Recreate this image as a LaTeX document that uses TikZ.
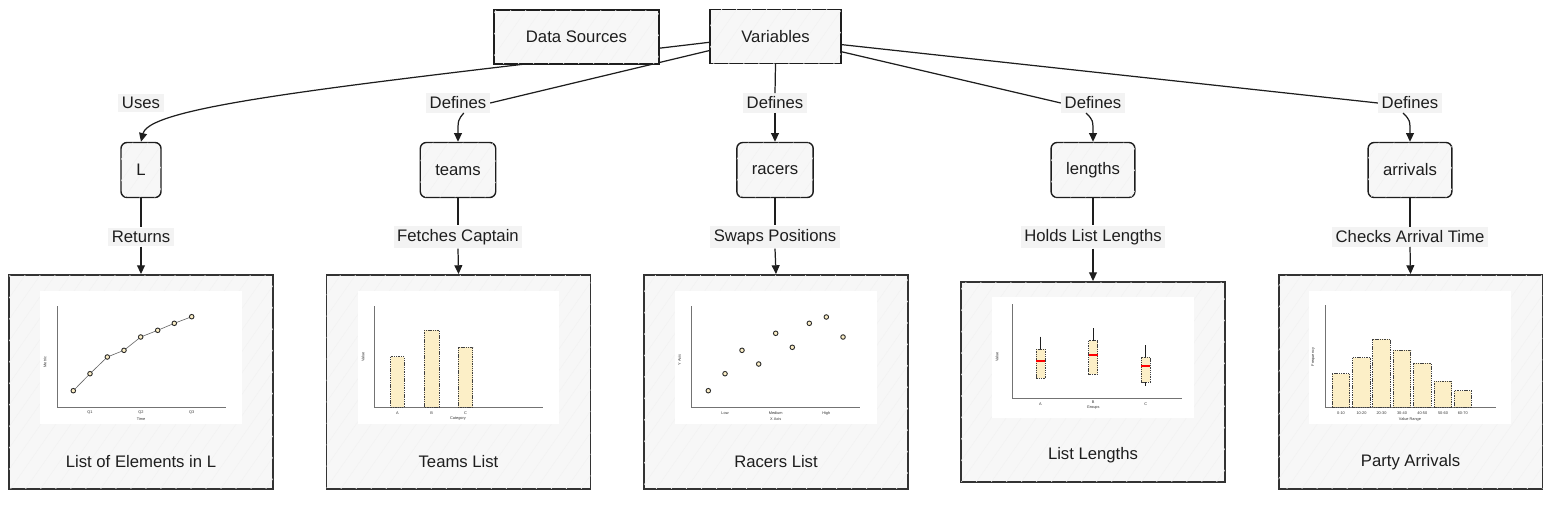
\documentclass[tikz,border=0pt]{standalone}
\usepackage{fontspec}
\setmainfont{Liberation Sans}
\usetikzlibrary{arrows.meta,patterns.meta}

\definecolor{ink}{HTML}{1E1E1E}
\definecolor{barfill}{HTML}{FCEFC7}
\definecolor{lblfill}{HTML}{F3F3F3}

\tikzset{
    hatch/.style={postaction={pattern={Lines[angle=55,distance=7pt,line width=0.3pt]}, pattern color=black!5}},
    topbox/.style={rectangle, draw=ink, line width=0.8pt, fill=black!3, minimum height=1.08cm, text=ink, font=\fontsize{9.5}{11}\selectfont, hatch},
    varbox/.style={rectangle, rounded corners=0.12cm, draw=ink, line width=0.8pt, fill=black!3, minimum height=1.1cm, minimum width=0.8cm, inner xsep=0.3cm, text=ink, font=\fontsize{9.5}{11}\selectfont, hatch},
    panel/.style={rectangle, draw=black!80, line width=1.1pt, fill=black!3, minimum width=5.28cm, minimum height=4.28cm, hatch},
    edgelabel/.style={fill=lblfill, inner sep=2pt, text=ink, font=\fontsize{9.5}{11}\selectfont},
    caption/.style={text=ink, font=\fontsize{9.5}{11}\selectfont},
    link/.style={draw=ink, line width=0.7pt},
    linkarrow/.style={link, -{Triangle[length=5pt,width=4.5pt]}},
    axis/.style={draw=black!55, line width=0.5pt},
    tiny/.style={font=\fontsize{2.2}{2.6}\selectfont, inner sep=0pt, text=black!80},
    bar/.style={fill=barfill, draw=black!75, dash pattern=on 0.8pt off 0.5pt, line width=0.4pt},
    dot/.style={fill=barfill, draw=black!85, line width=0.5pt},
    whisker/.style={draw=ink, line width=0.45pt},
    median/.style={draw=red, line width=0.6pt}
}

\begin{document}
\begin{tikzpicture}[x=0.02cm, y=-0.02cm]
    \useasboundingbox (0,0) rectangle (1568,504);

    \node[topbox, minimum width=2.62cm] (vars) at (775.5,36.5) {Variables};

    \node[varbox] (L) at (141,170) {L};
    \node[varbox] (teams) at (458,170) {teams};
    \node[varbox] (racers) at (775,170) {racers};
    \node[varbox] (lengths) at (1093,170) {lengths};
    \node[varbox] (arrivals) at (1410,170) {arrivals};

    \node[edgelabel] (usesL) at (141,103) {Uses};
    \node[edgelabel] (defteams) at (458,103) {Defines};
    \node[edgelabel] (defracers) at (775,103) {Defines};
    \node[edgelabel] (deflengths) at (1093,103) {Defines};
    \node[edgelabel] (defarrivals) at (1410,103) {Defines};

    \node[edgelabel] (retL) at (141,237) {Returns};
    \node[edgelabel] (fetch) at (458,237) {Fetches Captain};
    \node[edgelabel] (swap) at (775,237) {Swaps Positions};
    \node[edgelabel] (hold) at (1093,237) {Holds List Lengths};
    \node[edgelabel] (check) at (1410,237) {Checks Arrival Time};

    \node[panel] (lpanel) at (141,382) {};
    \node[panel] (tpanel) at (458.5,382) {};
    \node[panel] (rpanel) at (776,382) {};
    \node[panel, minimum height=4cm] (lenpanel) at (1093,382) {};
    \node[panel] (apanel) at (1410.5,382) {};

    \node[caption] (lcap) at (141,462) {List of Elements in L};
    \node[caption] (tcap) at (458.5,462) {Teams List};
    \node[caption] (rcap) at (776,462) {Racers List};
    \node[caption] (lencap) at (1093,455) {List Lengths};
    \node[caption] (acap) at (1410.5,462) {Party Arrivals};

    % top links
    \draw[linkarrow] (vars.185.7) .. controls (350,85) and (150,105) .. (L.north);
    \draw[link] (vars.192.5) -- (defteams.east);
    \draw[linkarrow] (defteams.-60) .. controls (458,120) .. (teams.north);
    \draw[link] (vars.south) -- (defracers.north);
    \draw[linkarrow] (defracers.south) -- (racers.north);
    \draw[link] (vars.347.5) -- (deflengths.west);
    \draw[linkarrow] (deflengths.235) .. controls (1093,120) .. (lengths.north);
    \draw[link] (vars.353.5) -- (defarrivals.west);
    \draw[linkarrow] (defarrivals.235) .. controls (1410,120) .. (arrivals.north);

    % bottom links
    \draw[link] (L.south) -- (retL.north);
    \draw[linkarrow] (retL.south) -- (lpanel.north);
    \draw[link] (teams.south) -- (fetch.north);
    \draw[linkarrow] (fetch.south) -- (tpanel.north);
    \draw[link] (racers.south) -- (swap.north);
    \draw[linkarrow] (swap.south) -- (rpanel.north);
    \draw[link] (lengths.south) -- (hold.north);
    \draw[linkarrow] (hold.south) -- (lenpanel.north);
    \draw[link] (arrivals.south) -- (check.north);
    \draw[linkarrow] (check.south) -- (apanel.north);

    \node[topbox, minimum width=3.3cm] (datasrc) at (576.5,37) {Data Sources};

    % line chart
    \fill[white] (40,291) rectangle (242,424);
    \draw[axis] (57,306) -- (57,407) -- (226,407);
    \draw[black!60, line width=0.35pt] (73.3,390.7) -- (90,373.7) -- (107.3,357) -- (124,350.3) -- (140.7,337) -- (157.7,330.3) -- (174.3,323.3) -- (191.7,316.7);
    \draw[dot] (73.3,390.7) circle[radius=1.3pt];
    \draw[dot] (90,373.7) circle[radius=1.3pt];
    \draw[dot] (107.3,357) circle[radius=1.3pt];
    \draw[dot] (124,350.3) circle[radius=1.3pt];
    \draw[dot] (140.7,337) circle[radius=1.3pt];
    \draw[dot] (157.7,330.3) circle[radius=1.3pt];
    \draw[dot] (174.3,323.3) circle[radius=1.3pt];
    \draw[dot] (191.7,316.7) circle[radius=1.3pt];
    \node[tiny] (lq1) at (90,413) {Q1};
    \node[tiny] (lq2) at (141,413) {Q2};
    \node[tiny] (lq3) at (191.7,413) {Q3};
    \node[tiny] (lxl) at (141,419) {Time};
    \node[tiny, rotate=90] (lyl) at (45,362) {Metric};

    % bar chart
    \fill[white] (358,291) rectangle (559,424);
    \draw[axis] (374,306) -- (374,407) -- (543,407);
    \draw[bar] (390.7,356.7) rectangle (404.3,407);
    \draw[bar] (424.3,330) rectangle (439,407);
    \draw[bar] (458.3,347.3) rectangle (472.7,407);
    \node[tiny] (ta) at (397.5,413) {A};
    \node[tiny] (tb) at (431.7,413) {B};
    \node[tiny] (tc) at (465.5,413) {C};
    \node[tiny] (txl) at (458,419) {Category};
    \node[tiny, rotate=90] (tyl) at (363,357) {Value};

    % scatter chart
    \fill[white] (675,291) rectangle (877,424);
    \draw[axis] (691,306) -- (691,407) -- (860,407);
    \draw[dot] (708.3,390.7) circle[radius=1.3pt];
    \draw[dot] (725,373.7) circle[radius=1.3pt];
    \draw[dot] (742,350.3) circle[radius=1.3pt];
    \draw[dot] (758.7,364) circle[radius=1.3pt];
    \draw[dot] (775.7,333.3) circle[radius=1.3pt];
    \draw[dot] (792.3,347.3) circle[radius=1.3pt];
    \draw[dot] (809.3,323.3) circle[radius=1.3pt];
    \draw[dot] (826.3,317) circle[radius=1.3pt];
    \draw[dot] (843,337) circle[radius=1.3pt];
    \node[tiny] (rlow) at (725,413) {Low};
    \node[tiny] (rmed) at (775.7,413) {Medium};
    \node[tiny] (rhigh) at (826.3,413) {High};
    \node[tiny] (rxl) at (775.7,419) {X Axis};
    \node[tiny, rotate=90] (ryl) at (679.5,360) {Y Axis};

    % box plot
    \fill[white] (992,297) rectangle (1194,418);
    \draw[axis] (1012,304) -- (1012,398) -- (1182,398);
    \draw[whisker] (1040.5,336.7) -- (1040.5,349);
    \draw[bar] (1036,349) rectangle (1045,378.3);
    \draw[median] (1036,361) -- (1045,361);
    \draw[whisker] (1093.2,328.3) -- (1093.2,340.7);
    \draw[bar] (1088.7,340.7) rectangle (1097.7,374);
    \draw[median] (1088.7,355) -- (1097.7,355);
    \draw[whisker] (1145.7,345) -- (1145.7,386);
    \draw[bar] (1141,357.3) rectangle (1150.3,382.3);
    \draw[median] (1141,366) -- (1150.3,366);
    \node[tiny] (ba) at (1040.5,404) {A};
    \node[tiny] (bb) at (1093.2,402) {B};
    \node[tiny] (bc) at (1145.7,404) {C};
    \node[tiny] (bxl) at (1093.2,408) {Groups};
    \node[tiny, rotate=90] (byl) at (997,357) {Value};

    % histogram
    \fill[white] (1309,291) rectangle (1511,424);
    \draw[axis] (1325,305) -- (1325,407) -- (1496,407);
    \draw[bar] (1332.3,373.7) rectangle (1349.7,407);
    \draw[bar] (1352.7,357.7) rectangle (1370.3,407);
    \draw[bar] (1372.7,339.3) rectangle (1390.3,407);
    \draw[bar] (1393.3,350) rectangle (1410.7,407);
    \draw[bar] (1413.7,363.3) rectangle (1431,407);
    \draw[bar] (1434,381) rectangle (1451.7,407);
    \draw[bar] (1454.3,390.7) rectangle (1471,407);
    \node[tiny] (h1) at (1341,413) {0-10};
    \node[tiny] (h2) at (1361.5,413) {10-20};
    \node[tiny] (h3) at (1381.5,413) {20-30};
    \node[tiny] (h4) at (1402,413) {30-40};
    \node[tiny] (h5) at (1422.3,413) {40-50};
    \node[tiny] (h6) at (1443,413) {50-60};
    \node[tiny] (h7) at (1462.7,413) {60-70};
    \node[tiny] (hxl) at (1410,419) {Value Range};
    \node[tiny, rotate=90] (hyl) at (1313.3,357) {Frequency};
\end{tikzpicture}
\end{document}
